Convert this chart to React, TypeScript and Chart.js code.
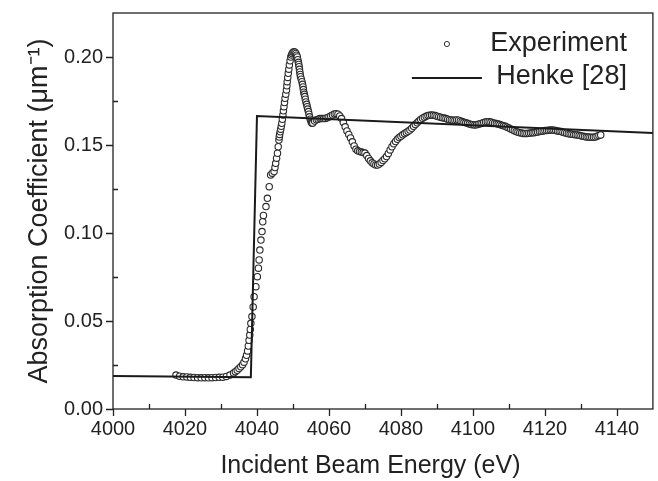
import React, { useEffect, useRef } from 'react';
import { Chart, registerables } from 'chart.js';

Chart.register(...registerables);

const FONT = "'Liberation Sans', Arial, Helvetica, sans-serif";
const INK = '#222222';

const seriesLabels = ['Experiment', 'Henke [28]'];
const xTitle = 'Incident Beam Energy (eV)\u2003';
const yTitle = 'Absorption Coefficient (μm⁻¹)';

const xTickValues = [4000, 4020, 4040, 4060, 4080, 4100, 4120, 4140];
const xMinorTickValues = [4010, 4030, 4050, 4070, 4090, 4110, 4130];
const yTickValues = [0, 0.05, 0.1, 0.15, 0.2];
const yMinorTickValues = [0.025, 0.075, 0.125, 0.175];

const henkeEnergy = [4000, 4038.3, 4040.0, 4150];
const henkeAbsorption = [0.0188, 0.018, 0.1665, 0.1568];

const experimentEnergy = [
  4017.5, 4018.5, 4019.5, 4020.5, 4021.5, 4022.5, 4023.5, 4024.5, 4025.5, 4026.5,
  4027.5, 4028.5, 4029.5, 4030.5, 4031.5, 4032.5, 4033.5,
  4034.0, 4034.5, 4035.0, 4035.5, 4036.0, 4036.4, 4036.8, 4037.1, 4037.4, 4037.6,
  4037.8, 4038.0, 4038.15, 4038.3, 4038.6, 4038.95, 4039.2, 4039.7, 4040.1, 4040.4,
  4040.6, 4040.8, 4041.1, 4041.4, 4041.6, 4041.8, 4042.5, 4042.9, 4043.4, 4043.8,
  4044.25, 4044.75, 4045.0, 4045.2, 4045.45, 4045.7, 4045.9, 4046.1, 4046.2, 4046.3,
  4046.45, 4046.6, 4046.75, 4046.9, 4047.05, 4047.2, 4047.35, 4047.5, 4047.65, 4047.8,
  4048.0, 4048.2, 4048.3, 4048.4, 4048.55, 4048.7, 4048.85, 4049.0, 4049.2, 4049.4,
  4049.6, 4049.8, 4050.05, 4050.3, 4050.55, 4050.8, 4051.0, 4051.2, 4051.35, 4051.5,
  4051.6, 4051.7, 4051.8, 4051.9, 4052.0, 4052.1, 4052.3, 4052.5, 4052.65, 4052.8,
  4052.9, 4053.0, 4053.15, 4053.3, 4053.45, 4053.6, 4053.8, 4053.95, 4054.1, 4054.3,
  4054.45, 4054.6, 4054.8, 4055.0, 4055.15, 4055.3,
  4055.5, 4056.0, 4056.5, 4057.0, 4057.5, 4058.0, 4058.5, 4059.0, 4059.5, 4060.0,
  4060.5, 4061.0, 4061.5, 4062.0, 4062.5, 4063.0, 4063.5, 4064.0, 4064.5, 4065.0,
  4065.5, 4066.0, 4066.5, 4067.0, 4067.5, 4068.0, 4068.5, 4069.0, 4069.5, 4070.0,
  4070.5, 4071.0, 4071.5, 4072.0, 4072.5, 4073.0, 4073.5, 4074.0, 4074.5, 4075.0,
  4075.5, 4076.0, 4076.5, 4077.0, 4077.5, 4078.0, 4078.5, 4079.0, 4079.5, 4080.0,
  4080.5, 4081.0, 4081.5, 4082.0, 4082.5, 4083.0, 4083.5, 4084.0, 4084.5, 4085.0,
  4085.5, 4086.0, 4086.5, 4087.0, 4087.5, 4088.0, 4088.5, 4089.0, 4089.5, 4090.0,
  4090.5, 4091.0, 4091.5, 4092.0, 4092.5, 4093.0, 4093.5, 4094.0, 4094.5, 4095.0,
  4095.5, 4096.0, 4096.5, 4097.0, 4097.5, 4098.0, 4098.5, 4099.0, 4099.5, 4100.0,
  4100.5, 4101.0, 4101.5, 4102.0, 4102.5, 4103.0, 4103.5, 4104.0, 4104.5, 4105.0,
  4105.5, 4106.0, 4106.5, 4107.0, 4107.5, 4108.0, 4108.5, 4109.0, 4109.5, 4110.0,
  4110.5, 4111.0, 4111.5, 4112.0, 4112.5, 4113.0, 4113.5, 4114.0, 4114.5, 4115.0,
  4115.5, 4116.0, 4116.5, 4117.0, 4117.5, 4118.0, 4118.5, 4119.0, 4119.5, 4120.0,
  4120.5, 4121.0, 4121.5, 4122.0, 4122.5, 4123.0, 4123.5, 4124.0, 4124.5, 4125.0,
  4125.5, 4126.0, 4126.5, 4127.0, 4127.5, 4128.0, 4128.5, 4129.0, 4129.5, 4130.0,
  4130.5, 4131.0, 4131.5, 4132.0, 4132.5, 4133.0, 4133.5, 4134.0, 4134.5, 4135.0,
  4135.5,
];

const experimentAbsorption = [
  0.0193, 0.0186, 0.0183, 0.0182, 0.018, 0.0179, 0.0178, 0.0177, 0.0178, 0.0177,
  0.0178, 0.0179, 0.018, 0.0181, 0.0185, 0.0193, 0.0205,
  0.0212, 0.022, 0.023, 0.024, 0.0252, 0.0266, 0.0285, 0.0305, 0.033, 0.0358,
  0.039, 0.042, 0.0452, 0.0487, 0.0525, 0.058, 0.0638, 0.0695, 0.0752, 0.08,
  0.0847, 0.0903, 0.096, 0.1008, 0.1064, 0.11, 0.115, 0.1197, 0.1263, 0.133,
  0.134, 0.1349, 0.1372, 0.1396, 0.1425, 0.1453, 0.149, 0.1528, 0.1545, 0.156,
  0.1575, 0.159, 0.1606, 0.1623, 0.1646, 0.167, 0.1694, 0.1718, 0.1741, 0.1765,
  0.1789, 0.1813, 0.1836, 0.186, 0.1884, 0.1907, 0.1931, 0.1955, 0.1978, 0.2,
  0.2012, 0.202, 0.2027, 0.203, 0.2027, 0.202, 0.201, 0.2, 0.1985, 0.197,
  0.1958, 0.1945, 0.193, 0.1915, 0.1901, 0.1888, 0.1874, 0.186, 0.1845, 0.183,
  0.1815, 0.18, 0.1788, 0.1775, 0.176, 0.1745, 0.1731, 0.1718, 0.1704, 0.169,
  0.1675, 0.166, 0.1647, 0.1635, 0.1628, 0.1623,
  0.1625, 0.1636, 0.1643, 0.1647, 0.165, 0.165, 0.165, 0.1651, 0.1655, 0.1659,
  0.1665, 0.1671, 0.1676, 0.1678, 0.1675, 0.1665, 0.165, 0.1628, 0.1603, 0.158,
  0.156, 0.154, 0.1518, 0.1495, 0.1476, 0.1467, 0.1463, 0.146, 0.1457, 0.1454,
  0.144, 0.1424, 0.141, 0.1399, 0.1392, 0.1387, 0.1386, 0.1392, 0.1401, 0.1412,
  0.1422, 0.1434, 0.1452, 0.1472, 0.149, 0.1507, 0.152, 0.1532, 0.1542, 0.155,
  0.1558, 0.1565, 0.1571, 0.1578, 0.1585, 0.1595, 0.1606, 0.1616, 0.1626, 0.1636,
  0.1645, 0.1652, 0.1658, 0.1663, 0.1667, 0.1669, 0.167, 0.1669, 0.1667, 0.1664,
  0.1661, 0.1658, 0.1655, 0.1653, 0.165, 0.1647, 0.1644, 0.1642, 0.1641, 0.1641,
  0.1642, 0.1641, 0.1637, 0.1633, 0.1629, 0.1626, 0.1623, 0.162, 0.1617, 0.1615,
  0.1614, 0.1615, 0.1618, 0.1621, 0.1624, 0.1628, 0.1631, 0.1632, 0.1632, 0.163,
  0.1627, 0.1624, 0.1622, 0.1619, 0.1616, 0.1612, 0.1609, 0.1606, 0.1601, 0.1596,
  0.1591, 0.1586, 0.1581, 0.1576, 0.1573, 0.157, 0.1568, 0.1566, 0.1566, 0.1566,
  0.1567, 0.1568, 0.1569, 0.157, 0.1572, 0.1574, 0.1576, 0.1578, 0.158, 0.1582,
  0.1583, 0.1584, 0.1585, 0.1585, 0.1584, 0.1582, 0.158, 0.1578, 0.1576, 0.1573,
  0.157, 0.1567, 0.1564, 0.1562, 0.1561, 0.1559, 0.1558, 0.1557, 0.1555, 0.1552,
  0.155, 0.1548, 0.1546, 0.1545, 0.1544, 0.1544, 0.1544, 0.1546, 0.155, 0.1554,
  0.1557,
];

const framePlugin = {
  id: 'originFrame',
  afterDatasetsDraw(chart: any) {
    const { ctx, chartArea: a, scales } = chart;
    const xs = scales.x;
    const ys = scales.y;
    ctx.save();
    ctx.strokeStyle = INK;
    ctx.lineWidth = 1.3;
    ctx.strokeRect(a.left, a.top, a.right - a.left, a.bottom - a.top);
    ctx.beginPath();
    for (const v of xTickValues) {
      const px = Math.round(xs.getPixelForValue(v)) + 0.5;
      ctx.moveTo(px, a.bottom);
      ctx.lineTo(px, a.bottom + 7);
    }
    for (const v of xMinorTickValues) {
      const px = Math.round(xs.getPixelForValue(v)) + 0.5;
      ctx.moveTo(px, a.bottom);
      ctx.lineTo(px, a.bottom - 5);
    }
    for (const v of yTickValues) {
      const py = Math.round(ys.getPixelForValue(v)) + 0.5;
      ctx.moveTo(a.left, py);
      ctx.lineTo(a.left - 7, py);
    }
    for (const v of yMinorTickValues) {
      const py = Math.round(ys.getPixelForValue(v)) + 0.5;
      ctx.moveTo(a.left, py);
      ctx.lineTo(a.left + 5, py);
    }
    ctx.stroke();
    ctx.restore();
  },
};

const legendPlugin = {
  id: 'insideLegend',
  afterDraw(chart: any) {
    const { ctx, chartArea: a } = chart;
    const ds = chart.data.datasets;
    const textRight = a.right - 26;
    const rows = [a.top + 31, a.top + 64];
    ctx.save();
    ctx.font = `27px ${FONT}`;
    ctx.fillStyle = INK;
    ctx.textAlign = 'right';
    ctx.textBaseline = 'middle';
    ctx.fillText(ds[0].label, textRight, rows[0]);
    ctx.beginPath();
    ctx.arc(a.right - 206, rows[0], 2.6, 0, Math.PI * 2);
    ctx.fillStyle = '#ffffff';
    ctx.fill();
    ctx.strokeStyle = '#333333';
    ctx.lineWidth = 1;
    ctx.stroke();
    ctx.fillStyle = INK;
    ctx.fillText(ds[1].label, textRight, rows[1]);
    ctx.beginPath();
    ctx.moveTo(a.right - 241, rows[1] + 1);
    ctx.lineTo(a.right - 171, rows[1] + 1);
    ctx.strokeStyle = '#1a1a1a';
    ctx.lineWidth = 2;
    ctx.stroke();
    ctx.restore();
  },
};

export default function App() {
  const ref = useRef<HTMLCanvasElement>(null);

  useEffect(() => {
    const canvas = ref.current;
    if (!canvas) return;
    const chart = new Chart(canvas, {
      type: 'scatter',
      data: {
        datasets: [
          {
            label: seriesLabels[0],
            data: experimentEnergy.map((x, i) => ({ x, y: experimentAbsorption[i] })),
            showLine: false,
            pointRadius: 3.2,
            pointBorderWidth: 1.1,
            pointBackgroundColor: '#ffffff',
            pointBorderColor: '#2a2a2a',
            order: 1,
          } as any,
          {
            label: seriesLabels[1],
            type: 'line',
            data: henkeEnergy.map((x, i) => ({ x, y: henkeAbsorption[i] })),
            showLine: true,
            borderColor: '#1a1a1a',
            borderWidth: 2,
            pointRadius: 0,
            tension: 0,
            fill: false,
            order: 0,
          } as any,
        ],
      },
      options: {
        animation: false,
        responsive: false,
        devicePixelRatio: 1,
        layout: { padding: { top: 13, right: 1, left: 0, bottom: 0 } },
        plugins: {
          legend: { display: false },
          tooltip: { enabled: false },
        },
        scales: {
          x: {
            type: 'linear',
            min: 4000,
            max: 4150,
            afterBuildTicks: (s: any) => {
              s.ticks = xTickValues.map((value) => ({ value }));
            },
            afterFit: (s: any) => {
              s.height = 72;
              s.paddingLeft = 0;
              s.paddingRight = 0;
            },
            grid: { display: false, drawTicks: false },
            border: { display: false },
            ticks: {
              font: { size: 20, family: FONT },
              color: INK,
              padding: 8,
              maxRotation: 0,
              autoSkip: false,
              callback: (v: any) => String(v),
            },
            title: {
              display: true,
              text: xTitle,
              font: { size: 25, family: FONT },
              color: INK,
              padding: { top: 0, bottom: 0 },
            },
          },
          y: {
            type: 'linear',
            min: 0,
            max: 0.225,
            afterBuildTicks: (s: any) => {
              s.ticks = yTickValues.map((value) => ({ value }));
            },
            afterFit: (s: any) => {
              s.width = 113;
              s.paddingTop = 0;
              s.paddingBottom = 0;
            },
            grid: { display: false, drawTicks: false },
            border: { display: false },
            ticks: {
              font: { size: 20, family: FONT },
              color: INK,
              padding: 10,
              autoSkip: false,
              callback: (v: any) => Number(v).toFixed(2),
            },
            title: {
              display: true,
              text: yTitle,
              font: { size: 27, family: FONT },
              color: INK,
              padding: { top: 23, bottom: 0 },
            },
          },
        },
      } as any,
      plugins: [framePlugin, legendPlugin],
    });
    return () => chart.destroy();
  }, []);

  return (
    <div style={{ position: 'absolute', left: 0, top: 0, width: 658, height: 481, background: '#ffffff' }}>
      <canvas ref={ref} width={658} height={481} style={{ display: 'block' }} />
    </div>
  );
}
